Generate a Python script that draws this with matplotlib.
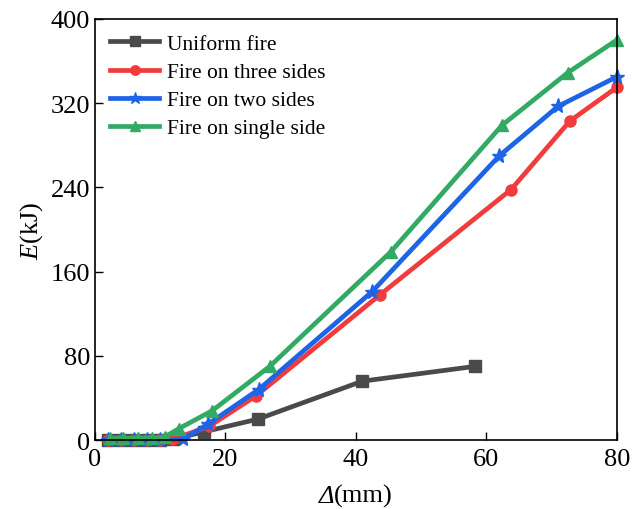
import matplotlib
matplotlib.use("Agg")
import matplotlib.pyplot as plt
from matplotlib.offsetbox import TextArea, HPacker, AnnotationBbox

plt.rcParams['font.family'] = ['Liberation Serif', 'DejaVu Serif']
plt.rcParams['mathtext.fontset'] = 'custom'
plt.rcParams['mathtext.rm'] = 'Liberation Serif'
plt.rcParams['mathtext.it'] = 'Liberation Serif:italic'

uniform_x = [2, 4, 6, 8, 10, 12, 16.8, 25, 41, 58.2]
uniform_y = [0, 0, 0, 0, 0, 1, 8, 20, 56, 70]

three_x = [2, 4, 6, 8, 10, 12, 17.5, 24.7, 43.7, 63.8, 72.8, 80]
three_y = [0, 0, 0, 0, 0, 1, 13, 42, 138, 238, 303, 335]

two_x = [2, 4, 6, 8, 10, 13.5, 17.3, 25.1, 42.5, 62, 71, 80]
two_y = [0, 0, 0, 0, 0, 1, 15, 48, 141, 270, 317, 345]

single_x = [2.3, 4.3, 6.6, 8.7, 10.7, 12.9, 18, 26.8, 45.4, 62.4, 72.5, 80]
single_y = [2, 2, 2, 2, 3, 11, 28, 70, 179, 299, 349, 380]

labels = ['Uniform fire', 'Fire on three sides', 'Fire on two sides', 'Fire on single side']
colors = ['#4a4a4a', '#f03c3c', '#1e64e6', '#32aa64']
markers = ['s', 'o', '*', '^']
msizes = [8, 8, 11, 9]

fig = plt.figure(figsize=(6.32, 5.10), dpi=100)
ax = fig.add_axes([0.150, 0.135, 0.826, 0.826])

series = [(uniform_x, uniform_y), (three_x, three_y), (two_x, two_y), (single_x, single_y)]
for (xs, ys), lab, c, m, ms in zip(series, labels, colors, markers, msizes):
    ax.plot(xs, ys, color=c, marker=m, markersize=ms, linewidth=3.4, label=lab, clip_on=False)

ax.set_xlim(0, 80)
ax.set_ylim(0, 400)
ax.set_xticks([0, 20, 40, 60, 80])
ax.set_yticks([0, 80, 160, 240, 320, 400])
ax.tick_params(direction='in', labelsize=19, length=6, width=1)
ax.tick_params(axis='x', pad=6)
for s in ax.spines.values():
    s.set_linewidth(1.2)

# x label: italic Delta followed by upright "(mm)"
xl = HPacker(children=[TextArea('Δ', textprops=dict(fontsize=19, style='italic')),
                       TextArea('(mm)', textprops=dict(fontsize=19))],
             pad=0, sep=0, align='baseline')
ab = AnnotationBbox(xl, (0.5, 0), xycoords='axes fraction',
                    xybox=(0, -40), boxcoords='offset points',
                    frameon=False, box_alignment=(0.5, 0.5))
ax.add_artist(ab)

ax.set_ylabel(r'$\mathit{E}$(kJ)', fontsize=19, labelpad=4)
ax.legend(loc='upper left', frameon=False, fontsize=15.5, handlelength=2.3,
          borderaxespad=0.3, labelspacing=0.37, handletextpad=0.35,
          markerscale=0.85)

fig.savefig('out.png', dpi=100)
